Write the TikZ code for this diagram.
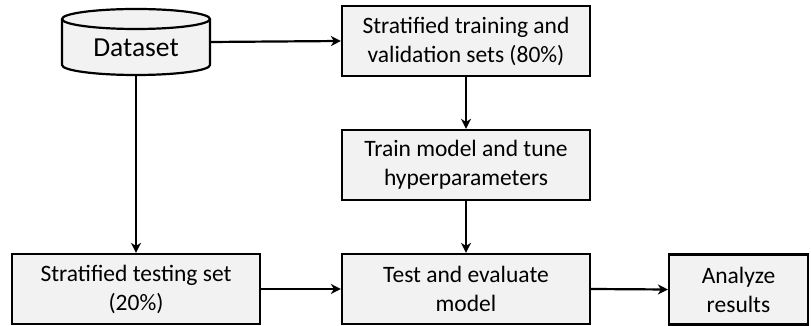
\documentclass[tikz,border=0pt]{standalone}
\usepackage{fontspec}
\setmainfont{Carlito}
\usetikzlibrary{arrows.meta}
\definecolor{boxfill}{HTML}{F2F2F2}
\begin{document}
\begin{tikzpicture}[x=1pt,y=1pt,
  txt/.style={font=\fontsize{23.5}{29}\selectfont},
  box/.style={draw=black,line width=2.2pt,fill=boxfill,minimum width=248pt,minimum height=70pt,align=center,inner sep=0pt,txt},
  conn/.style={line width=2.2pt,-{Stealth[length=10pt,width=10pt,inset=3pt]}}]
\useasboundingbox (0,0) rectangle (811,326);
\node[box] (split) at (466,285) {Stratified training and\\validation sets (80\%)};
\node[box] (train) at (466,161) {Train model and tune\\hyperparameters};
\node[box] (test) at (466,37) {Test and evaluate\\model};
\node[box] (strat) at (136,37) {Stratified testing set\\(20\%)};
\node[box,minimum width=139pt] (anal) at (738.5,36.5) {Analyze\\results};
\node[minimum width=148pt,minimum height=66pt,inner sep=0pt] (data) at (136,284) {};
\draw[line width=2.2pt,fill=boxfill] (62,307) -- (62,261) arc[start angle=180,end angle=360,x radius=74,y radius=10] -- (210,307) arc[start angle=0,end angle=180,x radius=74,y radius=10] -- cycle;
\draw[line width=2.2pt] (62,307) arc[start angle=180,end angle=360,x radius=74,y radius=10];
\node[font=\fontsize{27.5}{33}\selectfont] (dlabel) at (136,278) {Dataset};
\draw[conn] (data.east) -- (split.west);
\draw[conn] (data.south) -- (strat.north);
\draw[conn] (split.south) -- (train.north);
\draw[conn] (train.south) -- (test.north);
\draw[conn] (strat.east) -- (test.west);
\draw[conn] (test.east) -- (anal.west);
\end{tikzpicture}
\end{document}
